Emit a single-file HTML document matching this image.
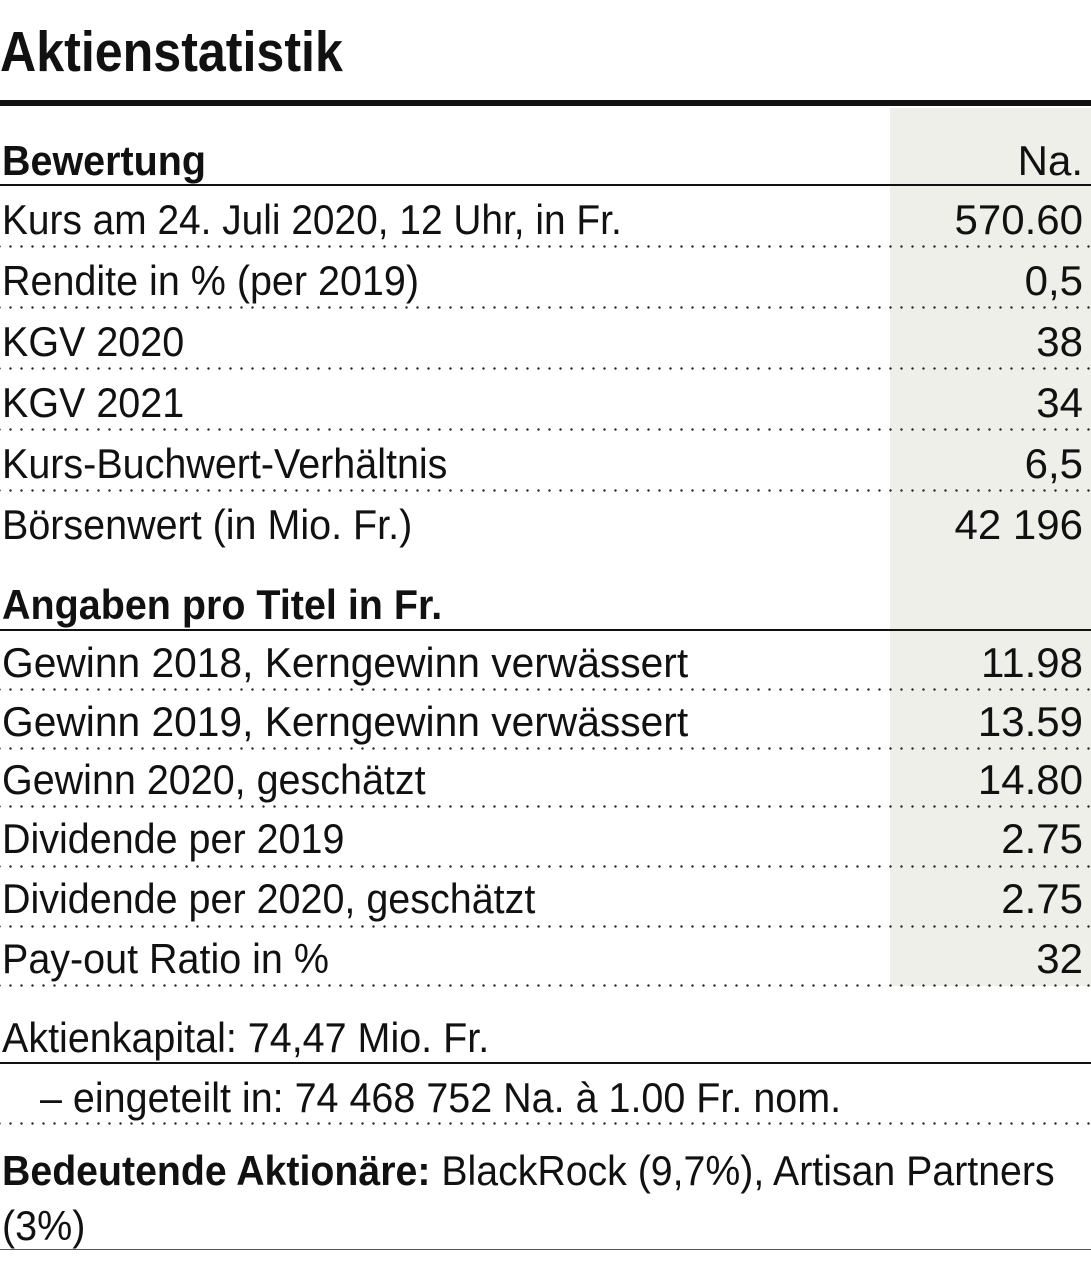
<!DOCTYPE html>
<html><head><meta charset="utf-8"><style>
html,body{margin:0;padding:0;background:#fff;}
body{width:1091px;height:1280px;position:relative;overflow:hidden;font-family:"Liberation Sans Narrow","Liberation Sans",sans-serif;color:#111;}
.t{position:absolute;font-size:42px;line-height:42px;white-space:nowrap;transform:scaleX(0.94);transform-origin:left;}
.r{position:absolute;right:8px;font-size:42px;line-height:42px;white-space:nowrap;}
.b{font-weight:bold;}
.dot{position:absolute;left:0;width:1091px;height:3px;background-image:radial-gradient(circle,#222 1px,transparent 1.4px);background-size:11px 3px;background-position:5px 0;}
.rule{position:absolute;left:0;width:1091px;height:2px;background:#111;}
</style></head><body>
<div style="position:absolute;left:890px;top:108px;width:201px;height:878px;background:#efefea;"></div>
<div class="t b" style="left:0;top:22px;font-size:57px;line-height:60px;transform:scaleX(0.88);transform-origin:left;">Aktienstatistik</div>
<div class="rule" style="top:100px;height:6px;"></div>

<div class="t b" style="left:2px;top:140px;">Bewertung</div><div class="r" style="top:140px;">Na.</div>
<div class="rule" style="top:184px;"></div>

<div class="t" style="left:2px;top:199px;transform:scaleX(0.925);">Kurs am 24. Juli 2020, 12 Uhr, in Fr.</div><div class="r" style="top:199px;">570.60</div>
<div class="dot" style="top:245px;"></div>
<div class="t" style="left:2px;top:260px;">Rendite in % (per 2019)</div><div class="r" style="top:260px;">0,5</div>
<div class="dot" style="top:306px;"></div>
<div class="t" style="left:2px;top:321px;">KGV 2020</div><div class="r" style="top:321px;">38</div>
<div class="dot" style="top:367px;"></div>
<div class="t" style="left:2px;top:382px;">KGV 2021</div><div class="r" style="top:382px;">34</div>
<div class="dot" style="top:428px;"></div>
<div class="t" style="left:2px;top:443px;">Kurs-Buchwert-Verhältnis</div><div class="r" style="top:443px;">6,5</div>
<div class="dot" style="top:489px;"></div>
<div class="t" style="left:2px;top:504px;">Börsenwert (in Mio. Fr.)</div><div class="r" style="top:504px;">42 196</div>

<div class="t b" style="left:2px;top:584px;">Angaben pro Titel in Fr.</div>
<div class="rule" style="top:629px;"></div>

<div class="t" style="left:2px;top:642px;transform:scaleX(0.97);">Gewinn 2018, Kerngewinn verwässert</div><div class="r" style="top:642px;">11.98</div>
<div class="dot" style="top:688px;"></div>
<div class="t" style="left:2px;top:701px;transform:scaleX(0.97);">Gewinn 2019, Kerngewinn verwässert</div><div class="r" style="top:701px;">13.59</div>
<div class="dot" style="top:747px;"></div>
<div class="t" style="left:2px;top:759px;">Gewinn 2020, geschätzt</div><div class="r" style="top:759px;">14.80</div>
<div class="dot" style="top:805px;"></div>
<div class="t" style="left:2px;top:818px;">Dividende per 2019</div><div class="r" style="top:818px;">2.75</div>
<div class="dot" style="top:865px;"></div>
<div class="t" style="left:2px;top:878px;">Dividende per 2020, geschätzt</div><div class="r" style="top:878px;">2.75</div>
<div class="dot" style="top:925px;"></div>
<div class="t" style="left:2px;top:938px;">Pay-out Ratio in %</div><div class="r" style="top:938px;">32</div>
<div class="dot" style="top:984px;"></div>

<div class="t" style="left:2px;top:1017px;">Aktienkapital: 74,47 Mio. Fr.</div>
<div class="rule" style="top:1062px;"></div>
<div class="t" style="left:40px;top:1077px;">– eingeteilt in: 74 468 752 Na. à 1.00 Fr. nom.</div>
<div class="dot" style="top:1122px;"></div>
<div class="t" style="left:2px;top:1150px;transform:scaleX(0.935);"><b>Bedeutende Aktionäre:</b> BlackRock (9,7%), Artisan Partners</div>
<div class="t" style="left:2px;top:1205px;">(3%)</div>
<div class="rule" style="top:1249px;height:1px;background:#555;"></div>
</body></html>
